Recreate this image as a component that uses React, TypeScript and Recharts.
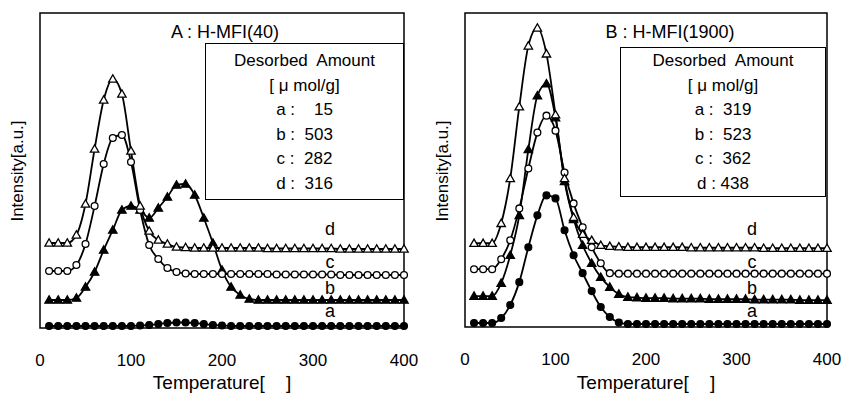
import React from 'react'
import { LineChart, Line, XAxis, YAxis, ReferenceArea } from 'recharts'

const FONT = '"Liberation Sans", Arial, sans-serif'

// temperature [°C] of every sampled point
const TEMPS = [10, 20, 30, 40, 50, 60, 70, 80, 90, 100, 110, 120, 130, 140, 150, 160, 170, 180, 190, 200,
  210, 220, 230, 240, 250, 260, 270, 280, 290, 300, 310, 320, 330, 340, 350, 360, 370, 380, 390, 400]

// panel A : H-MFI(40), intensity in arbitrary units (curves are offset)
const A_A = [2, 2, 2, 2, 2, 2, 2, 2, 2, 2, 2.5, 3, 4, 5, 5.5, 5.5, 5, 4, 3, 2.5,
  2, 2, 2, 2, 2, 2, 2, 2, 2, 2, 2, 2, 2, 2, 2, 2, 2, 2, 2, 2]
const A_B = [28, 28, 28, 30, 41, 56, 78, 98, 118, 122, 118, 110, 120, 131, 143, 144, 133, 110, 85, 58,
  41, 33, 29, 28, 28, 28, 28, 28, 28, 28, 28, 28, 28, 28, 28, 28, 28, 28, 28, 28]
const A_C = [57, 57, 57, 63, 84, 122, 164, 190, 193, 166, 118, 83, 69, 60, 56, 54.5, 54, 54, 54, 54,
  54, 54, 54, 54, 54, 53.5, 53.5, 53.5, 53.5, 53.5, 53.5, 53.5, 53, 53, 53, 53, 53, 53, 53, 53]
const A_D = [85, 85, 85, 93, 124, 179, 228, 249, 234, 177, 122, 97, 88, 84, 81, 80.5, 80, 80, 80, 80,
  80, 80, 80, 80, 79.5, 79.5, 79.5, 79.5, 79.5, 79.5, 79.5, 79.5, 79, 79, 79, 79, 79, 79, 79, 79]

// panel B : H-MFI(1900)
const B_A = [4, 4, 4, 9, 22, 45, 80, 112, 132, 129, 97, 72, 54, 36, 20, 10, 4.5, 3, 3, 3,
  3, 3, 3, 3, 3, 3, 3, 3, 3, 3, 3, 3, 3, 3, 3, 3, 3, 3, 3, 3]
const B_B = [31, 31, 31, 44, 72, 112, 178, 232, 244, 210, 146, 108, 82, 64, 50, 40, 33, 30, 29.5, 29,
  29, 29, 28.5, 28.5, 28.5, 28.5, 28, 28, 28, 28, 28, 27.5, 27.5, 27.5, 27.5, 27.5, 27, 27, 27, 27]
const B_C = [58, 58, 58, 68, 87, 119, 159, 195, 212, 197, 155, 124, 100, 80, 64, 54, 53.5, 53.5, 53.5, 53.5,
  53.5, 53.5, 53.5, 53.5, 53.5, 53.5, 53.5, 53.5, 53.5, 53.5, 53.5, 53.5, 53.5, 53.5, 53.5, 53.5, 53.5, 53.5, 53.5, 53.5]
const B_D = [84, 84, 84, 104, 149, 221, 282, 300, 274, 213, 149, 110, 93, 87, 82, 81, 80.5, 80, 80, 80,
  80, 80, 80, 80, 79.5, 79.5, 79.5, 79.5, 79.5, 79.5, 79.5, 79.5, 79, 79, 79, 79, 79, 79, 79, 79]

const X_TICKS = [0, 100, 200, 300, 400]

const LEGEND_A = ['Desorbed  Amount', '[ μ mol/g]', 'a :    15', 'b :  503', 'c :  282', 'd :  316']
const LEGEND_B = ['Desorbed  Amount', '[ μ mol/g]', 'a :  319', 'b :  523', 'c :  362', 'd : 438']

const SERIES = [
  { key: 'a', kind: 'dot' },
  { key: 'b', kind: 'tri' },
  { key: 'c', kind: 'ring' },
  { key: 'd', kind: 'otri' },
]

function Marker({ cx, cy, kind }: any) {
  if (cx == null || cy == null) return null
  if (kind === 'dot' || kind === 'ring') {
    return <circle cx={cx} cy={cy} r={3.4} fill={kind === 'dot' ? '#000' : '#fff'} stroke="#000" strokeWidth={1.3} />
  }
  const s = 4.2
  const pts = `${cx},${cy - s} ${cx - s},${cy + s * 0.75} ${cx + s},${cy + s * 0.75}`
  return <polygon points={pts} fill={kind === 'tri' ? '#000' : '#fff'} stroke="#000" strokeWidth={1.3} />
}

function Panel({ left, width, plotLeft, plotRight, plotBottom, title, titleX, legend, box, curveX, cols }: any) {
  const data = TEMPS.map((t, i) => ({ t, a: cols[0][i], b: cols[1][i], c: cols[2][i], d: cols[3][i] }))
  const xAxisH = 40
  return (
    <div style={{ position: 'absolute', left, top: 0, width, height: 396 }}>
      <LineChart
        width={width}
        height={396}
        data={data}
        margin={{ top: 13, left: plotLeft, right: width - plotRight, bottom: 396 - plotBottom - xAxisH }}
      >
        <XAxis
          dataKey="t"
          type="number"
          domain={[0, 400]}
          ticks={X_TICKS}
          height={xAxisH}
          axisLine={false}
          tickLine={false}
          tickSize={0}
          tickMargin={26}
          tick={{ fontSize: 17, fill: '#000', fontFamily: FONT }}
        />
        <YAxis hide type="number" domain={[0, 315]} />
        <ReferenceArea x1={0} x2={400} y1={0} y2={315} fill="none" stroke="#000" strokeWidth={1.5} fillOpacity={0} />
        {SERIES.map((s) => (
          <Line
            key={s.key}
            dataKey={s.key}
            type="monotone"
            stroke="#000"
            strokeWidth={1.8}
            isAnimationActive={false}
            dot={(p: any) => <Marker key={`${s.key}-${p.index}`} cx={p.cx} cy={p.cy} kind={s.kind} />}
            activeDot={false}
          />
        ))}
      </LineChart>

      <div style={{ position: 'absolute', left: titleX - 100, width: 200, top: 22, textAlign: 'center', fontSize: 18, whiteSpace: 'pre' }}>
        {title}
      </div>

      <div
        style={{
          position: 'absolute',
          left: box.x,
          top: box.y,
          width: box.w,
          height: box.h,
          border: '1.5px solid #000',
          boxSizing: 'border-box',
          background: '#fff',
          paddingTop: box.pad,
          textAlign: 'center',
          fontSize: 17,
          lineHeight: '24.6px',
          whiteSpace: 'pre',
        }}
      >
        {legend.map((l: string) => (
          <div key={l}>{l}</div>
        ))}
      </div>

      {[['d', 230], ['c', 263], ['b', 289], ['a', 312]].map(([k, y]) => (
        <div key={k as string} style={{ position: 'absolute', left: curveX - 10, width: 20, top: (y as number) - 11, textAlign: 'center', fontSize: 18 }}>
          {k}
        </div>
      ))}

      <div
        style={{
          position: 'absolute',
          left: plotLeft - 22 - 70,
          top: 172 - 11,
          width: 140,
          textAlign: 'center',
          fontSize: 17,
          transform: 'rotate(-90deg)',
        }}
      >
        Intensity[a.u.]
      </div>
      <div
        style={{
          position: 'absolute',
          left: (plotLeft + plotRight) / 2 - 100,
          width: 200,
          top: 372,
          textAlign: 'center',
          fontSize: 19,
          whiteSpace: 'pre',
        }}
      >
        {'Temperature[    ]'}
      </div>
    </div>
  )
}

export default function App() {
  return (
    <div style={{ position: 'absolute', left: 0, top: 0, width: 841, height: 396, background: '#fff', fontFamily: FONT, color: '#000' }}>
      <Panel
        left={0}
        width={420}
        plotLeft={40}
        plotRight={404}
        plotBottom={328}
        title="A : H-MFI(40)"
        titleX={225}
        legend={LEGEND_A}
        box={{ x: 205, y: 43, w: 199, h: 157, pad: 5 }}
        curveX={330}
        cols={[A_A, A_B, A_C, A_D]}
      />
      <Panel
        left={420}
        width={421}
        plotLeft={45}
        plotRight={407}
        plotBottom={327}
        title="B : H-MFI(1900)"
        titleX={250}
        legend={LEGEND_B}
        box={{ x: 200, y: 47, w: 206, h: 150, pad: 1 }}
        curveX={332}
        cols={[B_A, B_B, B_C, B_D]}
      />
    </div>
  )
}
